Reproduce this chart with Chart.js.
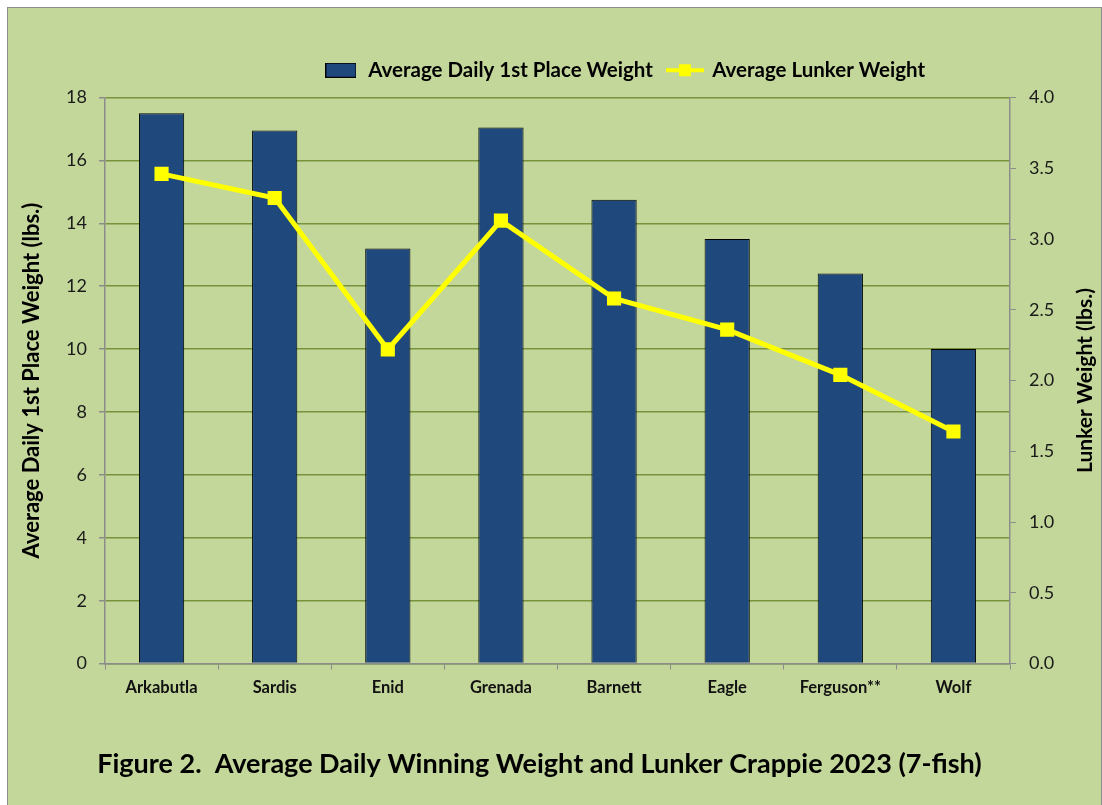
<!DOCTYPE html>
<html>
<head>
<meta charset="utf-8">
<script src="https://cdn.jsdelivr.net/npm/chart.js@4.4.1/dist/chart.umd.min.js"></script>
<style>
    html, body { margin: 0; padding: 0; background: #ffffff; overflow: hidden; }
    #chartBox {
        position: absolute;
        left: 7px;
        top: 7px;
        width: 1093px;
        height: 800px;
        border: 1px solid #8c8c8c;
        background: #c4d79b;
    }
</style>
</head>
<body>
<div id="chartBox"><canvas id="crappieChart" width="1093" height="800"></canvas></div>
<script>
// Chart data
const lakes = ['Arkabutla', 'Sardis', 'Enid', 'Grenada', 'Barnett', 'Eagle', 'Ferguson**', 'Wolf'];
const firstPlaceWeight = [17.5, 16.95, 13.2, 17.05, 14.75, 13.5, 12.4, 10.0];
const lunkerWeight = [3.46, 3.29, 2.22, 3.13, 2.58, 2.36, 2.04, 1.64];
const leftTicks = [0, 2, 4, 6, 8, 10, 12, 14, 16, 18];
const rightTicks = [0, 0.5, 1.0, 1.5, 2.0, 2.5, 3.0, 3.5, 4.0];

const FONT = 'Lato, "Open Sans", sans-serif';
const BAR_COLOR = '#1f497d';
const LINE_COLOR = '#ffff00';
const GRID_COLOR = '#77933c';
const AXIS_COLOR = '#8c8c8c';

// Legend icons
function makeBarIcon() {
    const c = document.createElement('canvas');
    c.width = 31; c.height = 15;
    const ctx = c.getContext('2d');
    ctx.fillStyle = BAR_COLOR;
    ctx.fillRect(0.5, 0.5, 30, 14);
    ctx.strokeStyle = '#000';
    ctx.lineWidth = 1;
    ctx.strokeRect(0.5, 0.5, 30, 14);
    return c;
}

function makeLineIcon() {
    const c = document.createElement('canvas');
    c.width = 38; c.height = 14;
    const ctx = c.getContext('2d');
    ctx.fillStyle = LINE_COLOR;
    ctx.fillRect(0, 5, 38, 4);
    ctx.fillRect(13, 1, 12, 12);
    return c;
}

// Moves legend / bottom title and draws right axis title bottom-to-top
const layoutTweaks = {
    id: 'layoutTweaks',
    afterLayout(chart, args, opts) {
        if (chart.legend) {
            chart.legend.left += opts.legendShift;
            chart.legend.right += opts.legendShift;
            chart.legend.top += opts.legendShiftY;
            chart.legend.bottom += opts.legendShiftY;
        }
        if (chart.titleBlock) {
            chart.titleBlock.left += opts.titleShift;
            chart.titleBlock.right += opts.titleShift;
        }
    },
    afterDraw(chart, args, opts) {
        const ctx = chart.ctx;
        const area = chart.chartArea;
        ctx.save();
        ctx.translate(opts.rightTitleX, (area.top + area.bottom) / 2);
        ctx.rotate(-Math.PI / 2);
        ctx.font = 'bold 21px ' + FONT;
        ctx.fillStyle = '#000';
        ctx.textAlign = 'center';
        ctx.textBaseline = 'middle';
        ctx.fillText(opts.rightTitle, 0, 0);
        ctx.restore();
    }
};

const ctx = document.getElementById('crappieChart').getContext('2d');
const crappieChart = new Chart(ctx, {
    type: 'bar',
    data: {
        labels: lakes,
        datasets: [{
            type: 'bar',
            label: 'Average Daily 1st Place Weight',
            data: firstPlaceWeight,
            backgroundColor: BAR_COLOR,
            borderColor: '#000000',
            borderWidth: 1,
            barPercentage: 0.4,
            categoryPercentage: 1.0,
            yAxisID: 'y',
            order: 2
        }, {
            type: 'line',
            label: 'Average Lunker Weight',
            data: lunkerWeight,
            borderColor: LINE_COLOR,
            backgroundColor: LINE_COLOR,
            borderWidth: 5,
            pointStyle: 'rect',
            pointRadius: 10,
            pointBorderWidth: 0,
            tension: 0,
            yAxisID: 'y2',
            order: 1
        }]
    },
    options: {
        responsive: false,
        animation: false,
        layout: { padding: { top: 44, left: 0, right: 0, bottom: 0 } },
        plugins: {
            legend: {
                position: 'top',
                labels: {
                    usePointStyle: true,
                    pointStyleWidth: 34,
                    color: '#000',
                    font: { family: FONT, size: 20.5, weight: 'bold' },
                    padding: 15,
                    generateLabels: () => [
                        { text: 'Average Daily 1st Place Weight', pointStyle: makeBarIcon(), datasetIndex: 0, lineWidth: 0 },
                        { text: 'Average Lunker Weight', pointStyle: makeLineIcon(), datasetIndex: 1, lineWidth: 0 }
                    ]
                }
            },
            title: {
                display: true,
                position: 'bottom',
                text: 'Figure 2.  Average Daily Winning Weight and Lunker Crappie 2023 (7-fish)',
                color: '#000',
                font: { family: FONT, size: 27, weight: 'bold' },
                padding: { top: 24, bottom: 28 }
            },
            tooltip: { enabled: false },
            layoutTweaks: {
                legendShift: 70,
                legendShiftY: -7,
                titleShift: -15,
                rightTitle: 'Lunker Weight (lbs.)',
                rightTitleX: 1077
            }
        },
        scales: {
            x: {
                grid: { drawOnChartArea: false, drawTicks: true, tickLength: 6, tickColor: AXIS_COLOR, offset: true },
                border: { color: AXIS_COLOR, width: 1.5 },
                ticks: {
                    color: '#111',
                    font: { family: FONT, size: 16.5, weight: 'bold' },
                    padding: 8,
                    maxRotation: 0
                },
                afterFit: (scale) => { scale.height = 60; }
            },
            y: {
                position: 'left',
                min: 0,
                max: 18,
                afterBuildTicks: (scale) => { scale.ticks = leftTicks.map(v => ({ value: v })); },
                grid: { color: GRID_COLOR, lineWidth: 1.5, tickLength: 6, tickColor: AXIS_COLOR },
                border: { color: AXIS_COLOR, width: 1.5 },
                ticks: {
                    color: '#1a1a1a',
                    font: { family: FONT, size: 18 },
                    padding: 12
                },
                title: {
                    display: true,
                    text: 'Average Daily 1st Place Weight (lbs.)',
                    color: '#000',
                    font: { family: FONT, size: 22, weight: 'bold' },
                    padding: { top: 11, bottom: 0 }
                },
                afterFit: (scale) => { scale.width = 97; }
            },
            y2: {
                position: 'right',
                min: 0,
                max: 4,
                afterBuildTicks: (scale) => { scale.ticks = rightTicks.map(v => ({ value: v })); },
                grid: { drawOnChartArea: false, tickLength: 6, tickColor: AXIS_COLOR },
                border: { color: AXIS_COLOR, width: 1.5 },
                ticks: {
                    color: '#1a1a1a',
                    font: { family: FONT, size: 18 },
                    padding: 13,
                    callback: (v) => Number(v).toFixed(1)
                },
                afterFit: (scale) => { scale.width = 91; }
            }
        }
    },
    plugins: [layoutTweaks]
});
</script>
</body>
</html>
